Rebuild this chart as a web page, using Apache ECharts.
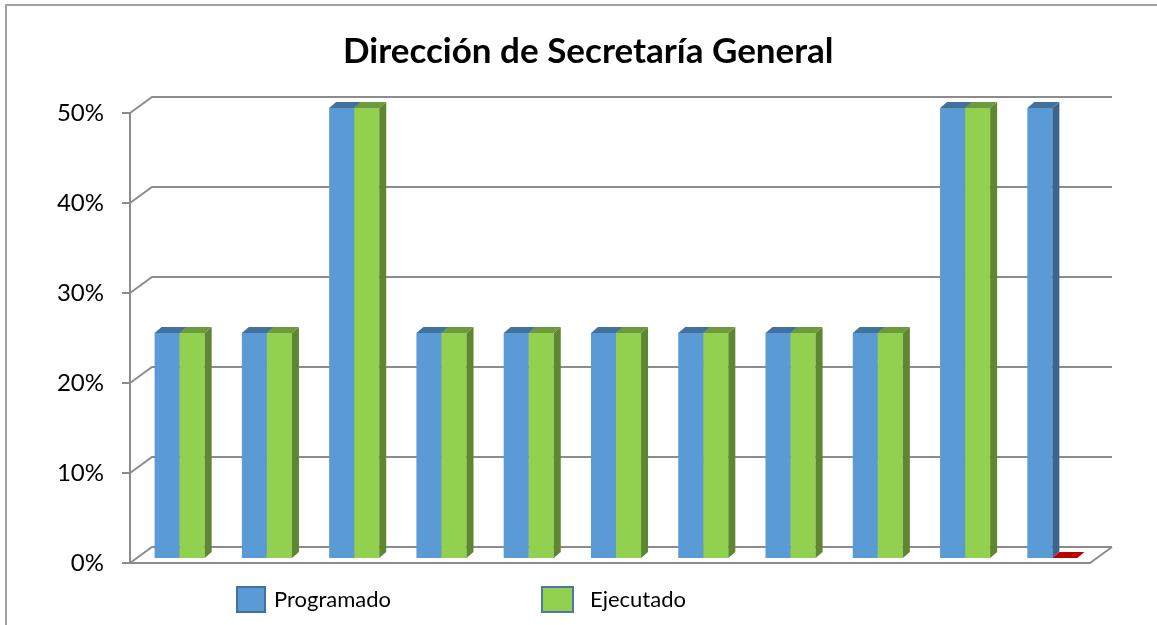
<!DOCTYPE html>
<html>
<head>
<meta charset="utf-8">
<script src="https://cdn.jsdelivr.net/npm/echarts@6/dist/echarts.min.js"></script>
<style>
  html, body { margin: 0; padding: 0; background: #fff; }
  #chart { width: 1157px; height: 625px; }
</style>
</head>
<body>
<div id="chart"></div>
<script>
// data
const categories = ['1', '2', '3', '4', '5', '6', '7', '8', '9', '10', '11'];
const programado = [25, 25, 50, 25, 25, 25, 25, 25, 25, 50, 50];
const ejecutado = [25, 25, 50, 25, 25, 25, 25, 25, 25, 50, 0];
const yTicks = [0, 10, 20, 30, 40, 50];

const FONT = 'Lato, "Open Sans", sans-serif';
const GRID_COLOR = '#8c8c8c';
// depth of the back wall and of the bars (pseudo 3d)
const BACK_DX = 22, BACK_DY = 16;
const BAR_DX = 6, BAR_DY = 5;
const SIDE_DX = 7, SIDE_DY = 6;

const chart = echarts.init(document.getElementById('chart'));

// back wall lines + the diagonals that join them to the front axis
const renderGrid = (params, api) => {
  const cs = params.coordSys;
  const y = api.coord([0, api.value(1)])[1];
  const left = cs.x, right = cs.x + cs.width;
  const children = [{
    type: 'polyline',
    shape: { points: [[left, y], [left + BACK_DX, y - BACK_DY], [right + BACK_DX, y - BACK_DY]] },
    style: { stroke: GRID_COLOR, lineWidth: 2, fill: null }
  }];
  if (api.value(1) === 0) {
    children.push({
      type: 'line',
      shape: { x1: right, y1: y, x2: right + BACK_DX, y2: y - BACK_DY },
      style: { stroke: GRID_COLOR, lineWidth: 2 }
    });
  }
  return { type: 'group', children };
};

const makeBar = (slot, front, top, side) => (params, api) => {
  const v = api.value(1);
  const c = api.coord([api.value(0), v]);
  const base = api.coord([api.value(0), 0]);
  const w = api.size([1, 0])[0] * 0.287;
  const x0 = c[0] + BAR_DX + (slot === 0 ? -w : 0);
  const yTop = c[1] - BAR_DY;
  const yBot = base[1] - BAR_DY;
  const children = [];
  if (v > 0) {
    children.push({
      type: 'rect',
      shape: { x: x0, y: yTop, width: w, height: yBot - yTop },
      style: { fill: front }
    });
    children.push({
      type: 'polygon',
      shape: { points: [[x0 + w, yTop], [x0 + w + SIDE_DX, yTop - SIDE_DY], [x0 + w + SIDE_DX, yBot - SIDE_DY], [x0 + w, yBot]] },
      style: { fill: side }
    });
  }
  children.push({
    type: 'polygon',
    shape: { points: [[x0, yTop], [x0 + SIDE_DX, yTop - SIDE_DY], [x0 + w + SIDE_DX, yTop - SIDE_DY], [x0 + w, yTop]] },
    style: { fill: v > 0 ? top : '#c00000' }
  });
  return { type: 'group', children };
};

chart.setOption({
  animation: false,
  title: {
    text: 'Dirección de Secretaría General',
    left: 338,
    top: 29,
    textStyle: { fontFamily: FONT, fontSize: 35, fontWeight: 'bold', color: '#000' }
  },
  graphic: [{
    type: 'polyline',
    shape: { points: [[6, 625], [6, 5], [1157, 5]] },
    style: { stroke: '#a0a0a0', lineWidth: 2, fill: null }
  }],
  legend: [
    {
      data: ['Programado'], left: 236, top: 586, padding: 0, icon: 'rect',
      itemWidth: 28, itemHeight: 25,
      textStyle: { fontFamily: FONT, fontSize: 22, color: '#000', padding: [0, 0, 0, 4] }
    },
    {
      data: ['Ejecutado'], left: 541, top: 586, padding: 0, icon: 'rect',
      itemWidth: 31, itemHeight: 25,
      textStyle: { fontFamily: FONT, fontSize: 22, color: '#000', padding: [0, 0, 0, 12] }
    }
  ],
  grid: { left: 130, right: 67, top: 113, bottom: 62, containLabel: false },
  xAxis: {
    type: 'category',
    data: categories,
    axisLine: { lineStyle: { color: GRID_COLOR, width: 2 } },
    axisTick: { show: false },
    axisLabel: { show: false }
  },
  yAxis: {
    type: 'value',
    min: 0, max: 50, interval: 10,
    axisLine: { show: true, lineStyle: { color: GRID_COLOR, width: 2 } },
    axisTick: { show: true, length: 8, lineStyle: { color: GRID_COLOR, width: 2 } },
    splitLine: { show: false },
    axisLabel: { formatter: '{value}%', margin: 26, fontFamily: FONT, fontSize: 24, color: '#000' }
  },
  series: [
    {
      name: 'grid',
      type: 'custom',
      renderItem: renderGrid,
      data: yTicks.map(v => [0, v]),
      silent: true,
      z: 1
    },
    {
      name: 'Programado',
      type: 'custom',
      renderItem: makeBar(0, '#5b9bd5', '#41719c', '#3a6590'),
      data: programado.map((v, i) => [i, v]),
      itemStyle: { color: '#5b9bd5', borderColor: '#41719c', borderWidth: 2 },
      z: 2
    },
    {
      name: 'Ejecutado',
      type: 'custom',
      renderItem: makeBar(1, '#92d050', '#6d9a3c', '#5f8732'),
      data: ejecutado.map((v, i) => [i, v]),
      itemStyle: { color: '#92d050', borderColor: '#4f76a8', borderWidth: 2 },
      z: 3
    }
  ]
});
</script>
</body>
</html>
